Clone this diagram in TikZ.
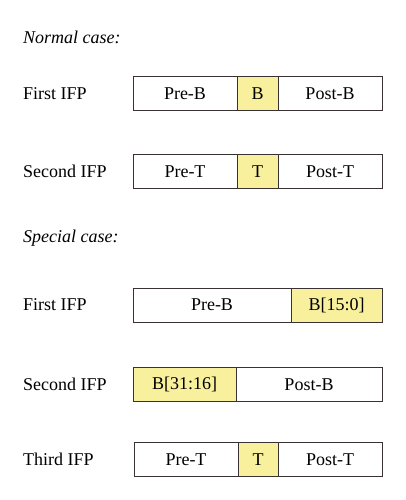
\documentclass[tikz,border=0pt]{standalone}
\usepackage{fontspec}
\setmainfont{Liberation Serif}
\definecolor{cellyellow}{HTML}{F8F09C}
\definecolor{edge}{HTML}{3A3232}
\begin{document}
\begin{tikzpicture}[x=1pt,y=-1pt,
  cell/.style={draw=edge,line width=1pt,minimum height=34pt,inner sep=0pt,font=\fontsize{18}{21}\selectfont},
  hl/.style={cell,fill=cellyellow},
  lbl/.style={anchor=west,inner sep=0pt,font=\fontsize{18}{21}\selectfont},
  head/.style={anchor=west,inner sep=0pt,font=\fontsize{18}{21}\selectfont\itshape}]
\useasboundingbox (0,0) rectangle (405,500);
% headings
\node[head] (normal) at (23,37) {Normal case:};
\node[head] (special) at (23,238) {Special case:};
% Normal case row 1
\node[lbl] (l1) at (23,94) {First IFP};
\node[cell,minimum width=104pt] (r1a) at (185,94) {Pre-B};
\node[hl,minimum width=41pt] (r1b) at (257.5,94) {B};
\node[cell,minimum width=104pt] (r1c) at (330,94) {Post-B};
% Normal case row 2
\node[lbl] (l2) at (23,171.5) {Second IFP};
\node[cell,minimum width=104pt] (r2a) at (185,171.5) {Pre-T};
\node[hl,minimum width=41pt] (r2b) at (257.5,171.5) {T};
\node[cell,minimum width=104pt] (r2c) at (330,171.5) {Post-T};
% Special case row 1
\node[lbl] (l3) at (23,305) {First IFP};
\node[cell,minimum width=158pt] (r3a) at (212,305) {Pre-B};
\node[hl,minimum width=91pt] (r3b) at (336.5,305) {B[15:0]};
% Special case row 2
\node[lbl] (l4) at (23,384.5) {Second IFP};
\node[hl,minimum width=103pt] (r4a) at (184.5,384.5) {B[31:16]};
\node[cell,minimum width=146pt] (r4b) at (309,384.5) {Post-B};
% Special case row 3
\node[lbl] (l5) at (23,459.5) {Third IFP};
\node[cell,minimum width=104pt] (r5a) at (186,459.5) {Pre-T};
\node[hl,minimum width=40pt] (r5b) at (258,459.5) {T};
\node[cell,minimum width=104pt] (r5c) at (330,459.5) {Post-T};
\end{tikzpicture}
\end{document}
